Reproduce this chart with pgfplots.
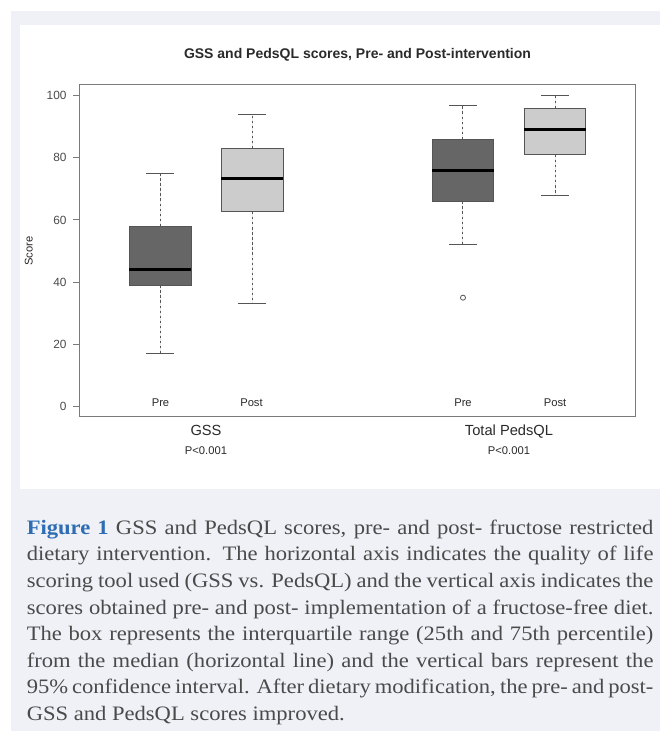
\documentclass[border=0pt]{standalone}
\usepackage{pgfplots}
\pgfplotsset{compat=1.18}
\usepgfplotslibrary{statistics}
\usepackage{fontspec}
\setmainfont{Liberation Serif}[FakeStretch=1.1]
\newfontfamily\rfont{Liberation Sans}
\definecolor{bgpanel}{HTML}{EFF1F6}
\definecolor{darkbox}{HTML}{666666}
\definecolor{lightbox}{HTML}{CCCCCC}
\definecolor{edge}{HTML}{555555}
\definecolor{frame}{HTML}{7A7A7A}
\definecolor{labgray}{HTML}{4A4A4A}
\definecolor{plottext}{HTML}{2A2A2A}
\definecolor{captext}{HTML}{4A4A4A}
\definecolor{figblue}{HTML}{2E6DB4}
\begin{document}
\begin{tikzpicture}
\useasboundingbox (0pt,0pt) rectangle (495pt,-548.25pt);
\begin{scope}[x=0.75pt,y=-0.75pt]
\fill[white] (0,0) rectangle (660,731);
\fill[bgpanel] (11,11) rectangle (660,731);
\fill[white] (20,25) rectangle (660,489);
\end{scope}
\begin{axis}[
  at={(59.475pt,-312.525pt)}, anchor=south west,
  scale only axis, width=417.5pt, height=249.5pt,
  xmin=0.12, xmax=6.17, ymin=-3.3, ymax=103.75,
  axis line style={frame, line width=0.75pt},
  xtick=\empty,
  ytick={0,20,40,60,80,100},
  tick pos=left, tick align=outside,
  major tick length=4.5pt,
  every tick/.style={frame, line width=0.75pt},
  yticklabel style={font=\rfont\fontsize{8.9}{10}\selectfont, text=labgray, xshift=-1.6pt},
  /pgf/number format/assume math mode=true,
  clip=false,
  boxplot/draw direction=y,
  boxplot/box extend=0.67,
  boxplot/whisker extend=0,
  boxplot/every median/.style={black, line width=2.25pt},
  boxplot/every whisker/.style={edge, line width=0.75pt, dash pattern=on 1.8pt off 2pt},
  capline/.style={edge, line width=0.75pt, solid, mark=none},
]
% GSS Pre
\addplot[fill=darkbox, draw=edge, line width=0.75pt,
  boxplot prepared={lower whisker=17, lower quartile=39, median=44,
    upper quartile=58, upper whisker=75, draw position=1}] coordinates {};
% GSS Post
\addplot[fill=lightbox, draw=edge, line width=0.75pt,
  boxplot prepared={lower whisker=33, lower quartile=62.6, median=73.5,
    upper quartile=83, upper whisker=94, draw position=2}] coordinates {};
% PedsQL Pre
\addplot[fill=darkbox, draw=edge, line width=0.75pt,
  boxplot prepared={lower whisker=52, lower quartile=66, median=76,
    upper quartile=86, upper whisker=97, draw position=4.29}] coordinates {};
% PedsQL Post
\addplot[fill=lightbox, draw=edge, line width=0.75pt,
  boxplot prepared={lower whisker=68, lower quartile=81, median=89,
    upper quartile=96, upper whisker=100, draw position=5.29}] coordinates {};
% whisker caps
\addplot[capline] coordinates {(0.85,17) (1.15,17)};
\addplot[capline] coordinates {(0.85,75) (1.15,75)};
\addplot[capline] coordinates {(1.85,33) (2.15,33)};
\addplot[capline] coordinates {(1.85,94) (2.15,94)};
\addplot[capline] coordinates {(4.14,52) (4.44,52)};
\addplot[capline] coordinates {(4.14,97) (4.44,97)};
\addplot[capline] coordinates {(5.14,68) (5.44,68)};
\addplot[capline] coordinates {(5.14,100) (5.44,100)};
% outlier
\addplot[only marks, mark=o, mark size=1.9pt, edge, line width=0.6pt] coordinates {(4.29,35)};
\end{axis}
\begin{scope}[x=0.75pt,y=-0.75pt]
% title and labels
\node[font=\rfont\bfseries\fontsize{10.5}{12}\selectfont, text=plottext, anchor=base] at (357.5,58.3)
  {GSS and PedsQL scores, Pre- and Post-intervention};
\node[font=\rfont\fontsize{8.4}{10}\selectfont, text=plottext, rotate=90] at (28.7,251) {Score};
\foreach \xx/\tt in {160.5/Pre, 251.5/Post, 463/Pre, 555/Post}
  \node[font=\rfont\fontsize{8.4}{10}\selectfont, text=plottext, anchor=base] at (\xx,406.7) {\tt};
\node[font=\rfont\fontsize{11}{13}\selectfont, text=plottext, anchor=base] at (206,435) {GSS};
\node[font=\rfont\fontsize{11}{13}\selectfont, text=plottext, anchor=base] at (509,435) {Total PedsQL};
\node[font=\rfont\fontsize{8.4}{10}\selectfont, text=plottext, anchor=base] at (206,454) {P<0.001};
\node[font=\rfont\fontsize{8.4}{10}\selectfont, text=plottext, anchor=base] at (509,454) {P<0.001};
% caption
\node[anchor=north west, inner sep=0pt, text width=470pt, align=justify, text=captext,
  font=\fontsize{15.4}{19.95}\selectfont] at (26.5,515.4) {%
  \tolerance=9999\hyphenpenalty=10000\emergencystretch=20pt
  \strut{\bfseries\color{figblue}Figure 1} GSS and PedsQL scores, pre- and post- fructose restricted\linebreak
  dietary intervention. The horizontal axis indicates the quality of life\linebreak
  scoring tool used (GSS vs. PedsQL) and the vertical axis indicates the\linebreak
  scores obtained pre- and post- implementation of a fructose-free diet.\linebreak
  The box represents the interquartile range (25th and 75th percentile)\linebreak
  from the median (horizontal line) and the vertical bars represent the\linebreak
  95\% confidence interval. After dietary modification, the pre- and post-\linebreak
  GSS and PedsQL scores improved.};
\end{scope}
\end{tikzpicture}
\end{document}
